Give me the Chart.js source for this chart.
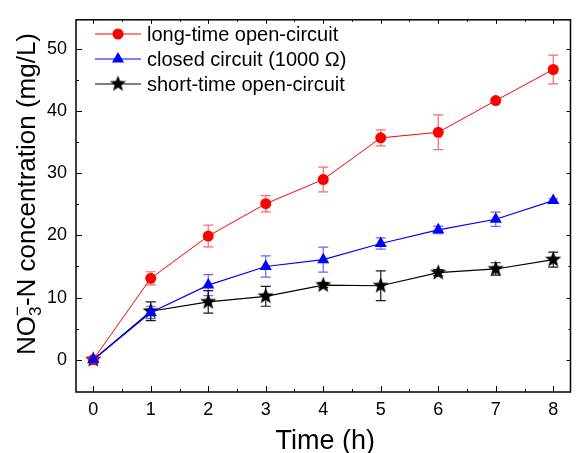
<!DOCTYPE html>
<html>
<head>
<meta charset="utf-8">
<script src="https://cdn.jsdelivr.net/npm/chart.js@4.4.0/dist/chart.umd.min.js"></script>
<style>
  html, body { margin: 0; padding: 0; background: #fff; }
  #wrap { width: 579px; height: 453px; }
</style>
</head>
<body>
<div id="wrap"><canvas id="chart" width="579" height="453"></canvas></div>
<script>
// data
const timeH = [0, 1, 2, 3, 4, 5, 6, 7, 8];
const longOpen = [0, 13.1, 19.9, 25.1, 29.0, 35.7, 36.6, 41.7, 46.7];
const longOpenErr = [0.3, 1.05, 1.75, 1.3, 2.0, 1.3, 2.8, 0.3, 2.3];
const closedCircuit = [0, 7.6, 12.0, 15.0, 16.1, 18.7, 20.9, 22.6, 25.6];
const closedErr = [0.3, 1.0, 1.7, 1.7, 2.0, 0.9, 0.6, 1.15, 0.3];
const shortOpen = [0, 7.8, 9.3, 10.2, 12.0, 11.9, 14.0, 14.6, 16.1];
const shortOpenErr = [0.3, 1.5, 1.8, 1.6, 0.4, 2.4, 0.5, 1.0, 1.2];

const xTicks = [0, 1, 2, 3, 4, 5, 6, 7, 8];
const yTicks = [0, 10, 20, 30, 40, 50];

const FONT = '"Liberation Sans", Arial, sans-serif';

// filled 5-point star used as point style
function makeStar(r) {
    const c = document.createElement('canvas');
    const s = Math.ceil(r * 2 + 2);
    c.width = s; c.height = s;
    const g = c.getContext('2d');
    g.translate(s / 2, s / 2);
    g.beginPath();
    for (let i = 0; i < 10; i++) {
        const rad = i % 2 === 0 ? r : r * 0.42;
        const a = -Math.PI / 2 + i * Math.PI / 5;
        g.lineTo(rad * Math.cos(a), rad * Math.sin(a));
    }
    g.closePath();
    g.fillStyle = '#000';
    g.fill();
    return c;
}
const starImg = makeStar(8.5);

const toPts = (ys) => ys.map((y, i) => ({ x: timeH[i], y: y }));

const decor = {
    id: 'decor',
    beforeDatasetsDraw(chart) {
        const ctx = chart.ctx;
        const xs = chart.scales.x, ys = chart.scales.y;
        chart.data.datasets.forEach((ds) => {
            ctx.save();
            ctx.strokeStyle = ds.errColor;
            ctx.lineWidth = 1.2;
            ds.data.forEach((p, i) => {
                const e = ds.err[i];
                const px = xs.getPixelForValue(p.x);
                const top = ys.getPixelForValue(p.y + e);
                const bot = ys.getPixelForValue(p.y - e);
                ctx.beginPath();
                ctx.moveTo(px, top); ctx.lineTo(px, bot);
                ctx.moveTo(px - 5, top); ctx.lineTo(px + 5, top);
                ctx.moveTo(px - 5, bot); ctx.lineTo(px + 5, bot);
                ctx.stroke();
            });
            ctx.restore();
        });
    },
    afterDraw(chart) {
        const ctx = chart.ctx;
        const a = chart.chartArea;
        const xs = chart.scales.x, ys = chart.scales.y;
        ctx.save();
        // frame
        ctx.strokeStyle = '#000';
        ctx.lineWidth = 1.5;
        ctx.strokeRect(a.left, a.top, a.right - a.left, a.bottom - a.top);
        // inward ticks
        ctx.lineWidth = 1;
        ctx.beginPath();
        xTicks.forEach((v) => {
            const px = Math.round(xs.getPixelForValue(v)) + 0.5;
            ctx.moveTo(px, a.bottom); ctx.lineTo(px, a.bottom - 6);
            ctx.moveTo(px, a.top); ctx.lineTo(px, a.top + 4);
            const m = v + 0.5;
            if (m < xs.max) {
                const pm = Math.round(xs.getPixelForValue(m)) + 0.5;
                ctx.moveTo(pm, a.bottom); ctx.lineTo(pm, a.bottom - 3);
                ctx.moveTo(pm, a.top); ctx.lineTo(pm, a.top + 2);
            }
        });
        yTicks.forEach((v) => {
            const py = Math.round(ys.getPixelForValue(v)) + 0.5;
            ctx.moveTo(a.left, py); ctx.lineTo(a.left + 6, py);
            ctx.moveTo(a.right, py); ctx.lineTo(a.right - 4, py);
            const m = v + 5;
            if (m < ys.max) {
                const pm = Math.round(ys.getPixelForValue(m)) + 0.5;
                ctx.moveTo(a.left, pm); ctx.lineTo(a.left + 3, pm);
                ctx.moveTo(a.right, pm); ctx.lineTo(a.right - 2, pm);
            }
        });
        ctx.stroke();

        // legend
        chart.data.datasets.forEach((ds, r) => {
            const y = 34 + r * 25;
            ctx.strokeStyle = ds.borderColor;
            ctx.lineWidth = 1;
            ctx.beginPath();
            ctx.moveTo(95, y); ctx.lineTo(141, y);
            ctx.stroke();
            ctx.fillStyle = ds.pointBackgroundColor;
            ctx.strokeStyle = ds.pointBorderColor;
            Chart.helpers.drawPoint(ctx, {
                pointStyle: ds.pointStyle, radius: ds.pointRadius,
                rotation: 0, borderWidth: ds.pointBorderWidth
            }, 118, y);
            ctx.fillStyle = '#000';
            ctx.font = '20px ' + FONT;
            ctx.textAlign = 'left';
            ctx.textBaseline = 'middle';
            ctx.fillText(ds.label, 147, y + 1);
        });

        // x title
        ctx.fillStyle = '#000';
        ctx.font = '27px ' + FONT;
        ctx.textAlign = 'center';
        ctx.textBaseline = 'alphabetic';
        ctx.fillText('Time (h)', (a.left + a.right) / 2 + 2, 449);

        // y title with sub/superscript
        ctx.save();
        ctx.translate(35, 194);
        ctx.rotate(-Math.PI / 2);
        const big = '26px ' + FONT, small = '17px ' + FONT;
        ctx.font = big;
        const w1 = ctx.measureText('NO').width;
        const w3 = ctx.measureText('-N concentration (mg/L)').width;
        ctx.font = small;
        const w2 = Math.max(ctx.measureText('3').width, ctx.measureText('\u2212').width);
        let x = -(w1 + w2 + w3) / 2;
        ctx.textAlign = 'left';
        ctx.font = big;
        ctx.fillText('NO', x, 0);
        x += w1;
        ctx.font = small;
        ctx.fillText('3', x, 6);
        ctx.fillText('\u2212', x, -12);
        x += w2;
        ctx.font = big;
        ctx.fillText('-N concentration (mg/L)', x, 0);
        ctx.restore();

        ctx.restore();
    }
};

new Chart(document.getElementById('chart'), {
    type: 'line',
    data: {
        datasets: [
            {
                label: 'long-time open-circuit',
                data: toPts(longOpen),
                err: longOpenErr,
                errColor: 'rgba(255, 0, 0, 0.6)',
                borderColor: '#ff0000',
                borderWidth: 1,
                pointStyle: 'circle',
                pointRadius: 5.5,
                pointBackgroundColor: '#ff0000',
                pointBorderColor: '#ff0000',
                pointBorderWidth: 0,
                order: 1
            },
            {
                label: 'closed circuit (1000 \u03A9)',
                data: toPts(closedCircuit),
                err: closedErr,
                errColor: 'rgba(0, 0, 255, 0.6)',
                borderColor: '#0000ff',
                borderWidth: 1.2,
                pointStyle: 'triangle',
                pointRadius: 7,
                pointBackgroundColor: '#0000ff',
                pointBorderColor: '#0000ff',
                pointBorderWidth: 0,
                order: 0
            },
            {
                label: 'short-time open-circuit',
                data: toPts(shortOpen),
                err: shortOpenErr,
                errColor: 'rgba(0, 0, 0, 0.9)',
                borderColor: '#000000',
                borderWidth: 1.2,
                pointStyle: starImg,
                pointRadius: 8.5,
                pointBackgroundColor: '#000000',
                pointBorderColor: '#000000',
                pointBorderWidth: 0,
                order: 2
            }
        ]
    },
    options: {
        responsive: false,
        animation: false,
        events: [],
        layout: { padding: { left: 0, right: 1, top: 14, bottom: 0 } },
        plugins: { legend: { display: false }, tooltip: { enabled: false } },
        elements: { line: { tension: 0 } },
        scales: {
            x: {
                type: 'linear',
                min: -0.3,
                max: 8.3,
                afterBuildTicks: (s) => { s.ticks = xTicks.map(v => ({ value: v })); },
                afterFit: (s) => { s.height = 61; },
                grid: { display: false, drawTicks: false },
                border: { display: false },
                ticks: {
                    color: '#000',
                    font: { family: FONT, size: 18 },
                    padding: 7,
                    maxRotation: 0,
                    autoSkip: false
                }
            },
            y: {
                type: 'linear',
                min: -5.2,
                max: 54.7,
                afterBuildTicks: (s) => { s.ticks = yTicks.map(v => ({ value: v })); },
                afterFit: (s) => { s.width = 76; },
                grid: { display: false, drawTicks: false },
                border: { display: false },
                ticks: {
                    color: '#000',
                    font: { family: FONT, size: 18 },
                    padding: 9,
                    autoSkip: false
                }
            }
        }
    },
    plugins: [decor]
});
</script>
</body>
</html>
